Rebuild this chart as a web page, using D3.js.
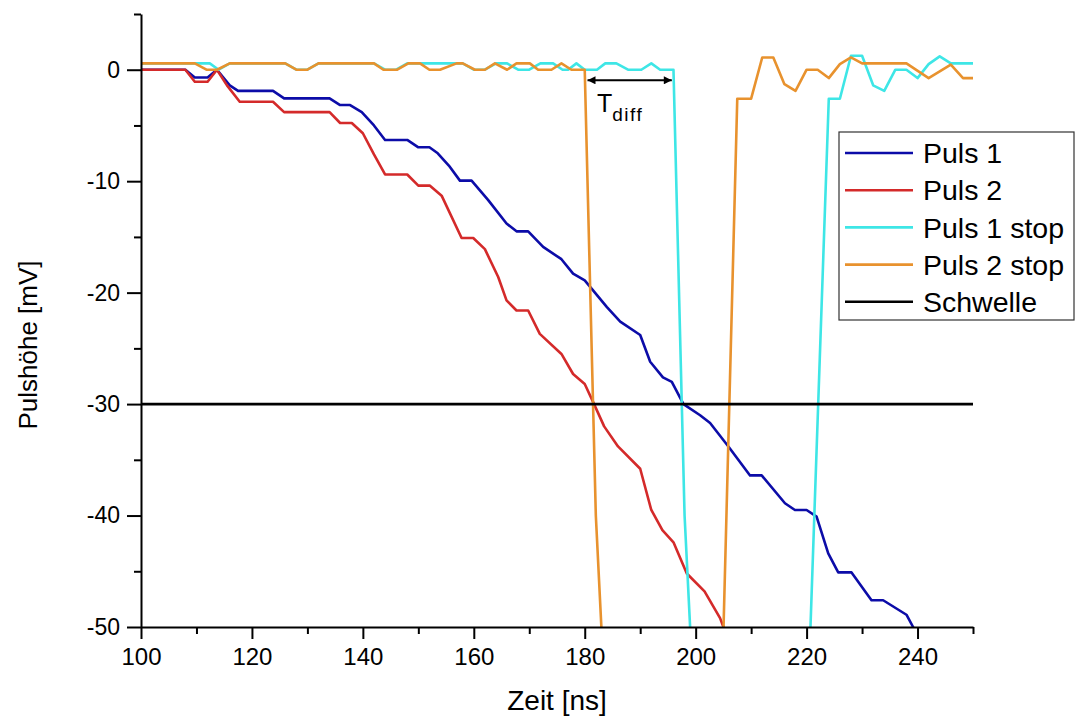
<!DOCTYPE html>
<html>
<head>
<meta charset="utf-8">
<script src="https://cdn.jsdelivr.net/npm/d3@7"></script>
<style>
body { margin: 0; background: #fff; }
text { font-family: "Liberation Sans", Arial, sans-serif; fill: #000; }
</style>
</head>
<body>
<div id="chart"></div>
<script>
// Puls 1 (blue) [t ns, mV]
var puls1 = [[100,0],[108,0],[109.7,-0.7],[112,-0.7],[113.7,0],[116,-1.4],[117.5,-1.9],[123.8,-1.9],
    [125.8,-2.57],[134,-2.57],[135.9,-3.17],[137.7,-3.17],[139.8,-3.8],[142,-5],[144,-6.3],[148,-6.3],
    [150,-6.96],[152,-6.96],[153.5,-7.5],[155.5,-8.6],[157.5,-9.95],[159.6,-9.95],[162.6,-11.7],
    [165.9,-13.8],[167.7,-14.5],[169.8,-14.5],[172.5,-15.9],[175.8,-17],[177.9,-18.3],[180,-18.9],
    [181.5,-19.8],[184,-21.3],[186.4,-22.6],[190,-23.8],[191.8,-26.2],[194.1,-27.6],[195.7,-28],
    [197.8,-30],[200.8,-31],[202.6,-31.7],[205.9,-33.8],[209.8,-36.4],[211.9,-36.4],[216.1,-38.9],
    [217.9,-39.5],[220,-39.5],[221.8,-40.1],[223.9,-43.4],[225.7,-45.1],[228.1,-45.1],[231.7,-47.6],
    [233.8,-47.6],[238,-48.9],[239.2,-50],[240,-51]];
// Puls 2 (red)
var puls2 = [[100,0],[108,0],[109.7,-1.08],[112,-1.08],[113.7,0],[115.5,-1.4],[117.8,-2.87],[123.8,-2.87],
    [125.8,-3.8],[134,-3.8],[135.9,-4.78],[138,-4.78],[140,-5.7],[142,-7.6],[144,-9.4],[148,-9.4],
    [150,-10.4],[152.1,-10.4],[154.2,-11.3],[157.8,-15.1],[159.9,-15.1],[162,-16.1],[164.4,-18.6],
    [165.9,-20.7],[167.7,-21.6],[169.8,-21.6],[171.9,-23.7],[175.8,-25.5],[177.9,-27.3],[180,-28.2],
    [181.5,-29.8],[183.5,-32],[186,-33.8],[190,-35.8],[192,-39.5],[194,-41.3],[196,-42.4],[198.4,-45.2],
    [201.6,-46.8],[204.4,-49.2],[205,-50],[206,-51]];
// Puls 1 stop (cyan)
var puls1Stop = [[100,0.57],[112.4,0.57],[114,0],[116,0.57],[126,0.57],[128,0],[130,0],[132,0.57],
    [142,0.57],[144,0],[146,0],[148,0.57],[158,0.57],[160,0],[162,0],[164,0.57],[166,0.57],[168,0],
    [170,0],[172,0.57],[174.3,0.57],[176,0],[177,0],[178.5,0.57],[180,0],[182.2,0],[183.7,0.57],
    [185.7,0.57],[187.8,0],[190.2,0],[192,0.57],[193.6,0],[196,0],[198,-40],[200,-60],[220,-60],
    [224,-2.6],[226,-2.6],[228,1.25],[230,1.25],[232,-1.4],[234,-1.9],[236,0],[238,0],[240,-0.75],
    [242,0.5],[244,1.2],[246,0.57],[250,0.57]];
// Puls 2 stop (orange)
var puls2Stop = [[100,0.57],[109.7,0.57],[111.8,0],[113.7,0],[116,0.57],[126,0.57],[128,0],[130,0],
    [132,0.57],[142,0.57],[143.7,0],[146.2,0],[148.2,0.57],[150.3,0.57],[152,0],[153.9,0],[156.9,0.57],
    [158,0.57],[160.2,0],[162,0],[163.8,0.57],[166,0],[167.7,0.57],[170.1,0.57],[171.6,0],[174,0],
    [175.8,0.57],[177.6,0],[180,0],[182,-40],[184,-60],[204.4,-62],[207.5,-2.6],[210,-2.6],[212,1.1],
    [214,1.1],[216,-1.3],[218,-1.9],[220,0],[222,0],[224,-0.75],[226,0.5],[228,1.1],[230,0.57],
    [238,0.57],[242,-0.75],[246,0.45],[248.2,-0.75],[250,-0.75]];
var schwelle = [[100,-30],[250,-30]];

var seriesNames = ["Puls 1", "Puls 2", "Puls 1 stop", "Puls 2 stop", "Schwelle"];
var seriesData = [puls1, puls2, puls1Stop, puls2Stop, schwelle];
var seriesColors = ["#0c0ca8", "#d42a2a", "#3ee6e6", "#e8922e", "#000000"];

var xMajor = [100,120,140,160,180,200,220,240];
var xMinor = [110,130,150,170,190,210,230,250];
var yMajor = [0,-10,-20,-30,-40,-50];
var yMinor = [5,-5,-15,-25,-35,-45];

var width = 1076, height = 722;
var svg = d3.select("#chart").append("svg")
    .attr("width", width).attr("height", height);

var x = d3.scaleLinear().domain([100, 250]).range([141, 973]);
var y = d3.scaleLinear().domain([-50, 5]).range([627, 14]);

svg.append("clipPath").attr("id", "plotclip")
  .append("rect")
    .attr("x", x(100)).attr("y", y(5))
    .attr("width", x(250) - x(100)).attr("height", y(-50) - y(5));

var line = d3.line().x(d => x(d[0])).y(d => y(d[1]));

var plot = svg.append("g").attr("clip-path", "url(#plotclip)");
plot.selectAll(".series")
    .data(seriesData)
    .enter()
    .append("path")
    .attr("class", "series")
    .attr("d", line)
    .attr("fill", "none")
    .attr("stroke", (d, i) => seriesColors[i])
    .attr("stroke-width", 2.6)
    .attr("stroke-linejoin", "round");

// Axes (plain hyphen for negatives, like the original)
var fmt = d => String(d);
var xAxisMinor = svg.append("g")
    .attr("transform", "translate(0," + y(-50) + ")")
    .call(d3.axisBottom(x).tickValues(xMinor).tickSize(7).tickFormat(""));
var xAxis = svg.append("g")
    .attr("transform", "translate(0," + y(-50) + ")")
    .call(d3.axisBottom(x).tickValues(xMajor).tickSize(12).tickSizeOuter(0).tickPadding(9).tickFormat(fmt));
var yAxisMinor = svg.append("g")
    .attr("transform", "translate(" + x(100) + ",0)")
    .call(d3.axisLeft(y).tickValues(yMinor).tickSize(7).tickFormat(""));
var yAxis = svg.append("g")
    .attr("transform", "translate(" + x(100) + ",0)")
    .call(d3.axisLeft(y).tickValues(yMajor).tickSize(14).tickSizeOuter(0).tickPadding(7).tickFormat(fmt));

svg.selectAll(".domain").attr("stroke", "#000").attr("stroke-width", 2);
svg.selectAll(".tick line").attr("stroke", "#000").attr("stroke-width", 2);
xAxis.selectAll("text").style("font-size", "24px").style("font-family", "Liberation Sans, Arial, sans-serif");
yAxis.selectAll("text").style("font-size", "23px").style("font-family", "Liberation Sans, Arial, sans-serif");
xAxisMinor.select(".domain").remove();
yAxisMinor.select(".domain").remove();

// Axis titles
svg.append("text")
    .attr("x", (x(100) + x(250)) / 2)
    .attr("y", 710)
    .attr("text-anchor", "middle")
    .style("font-size", "28px")
    .text("Zeit [ns]");

svg.append("text")
    .attr("transform", "translate(37,345) rotate(-90)")
    .attr("text-anchor", "middle")
    .style("font-size", "26px")
    .text("Pulshöhe [mV]");

// T_diff annotation
var defs = svg.append("defs");
defs.append("marker")
    .attr("id", "arrowhead")
    .attr("viewBox", "0 0 10 10")
    .attr("refX", 10).attr("refY", 5)
    .attr("markerWidth", 5).attr("markerHeight", 4)
    .attr("markerUnits", "strokeWidth")
    .attr("orient", "auto-start-reverse")
  .append("path")
    .attr("d", "M0,0 L10,5 L0,10 Z")
    .attr("fill", "#000");

svg.append("line")
    .attr("x1", x(180.5)).attr("x2", x(195.7))
    .attr("y1", y(-0.95)).attr("y2", y(-0.95))
    .attr("stroke", "#000").attr("stroke-width", 2)
    .attr("marker-start", "url(#arrowhead)")
    .attr("marker-end", "url(#arrowhead)");

var tdiff = svg.append("text")
    .attr("x", x(182.2))
    .attr("y", y(-3.8))
    .style("font-size", "25px")
    .text("T");
tdiff.append("tspan")
    .attr("dy", 9)
    .style("font-size", "19px")
    .style("letter-spacing", "1.5px")
    .text("diff");

// Legend
var legend = svg.append("g").attr("transform", "translate(839,132)");
legend.append("rect")
    .attr("width", 235).attr("height", 188)
    .attr("fill", "#fff").attr("stroke", "#333").attr("stroke-width", 1.2);
var items = legend.selectAll(".item")
    .data(seriesNames)
    .enter()
    .append("g")
    .attr("class", "item")
    .attr("transform", (d, i) => "translate(0," + (21 + i * 37.2) + ")");
items.append("line")
    .attr("x1", 6).attr("x2", 74)
    .attr("stroke", (d, i) => seriesColors[i])
    .attr("stroke-width", 2.6);
items.append("text")
    .attr("x", 84)
    .attr("dy", "0.36em")
    .style("font-size", "28.5px")
    .text(d => d);
</script>
</body>
</html>
